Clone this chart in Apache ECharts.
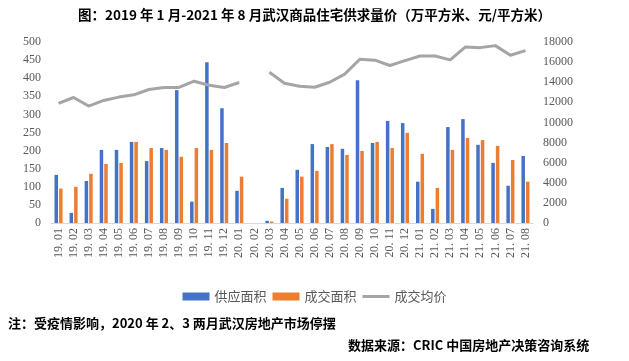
<!DOCTYPE html>
<html><head><meta charset="utf-8">
<script src="https://cdn.jsdelivr.net/npm/echarts@6/dist/echarts.min.js"></script>
<style>html,body{margin:0;padding:0;background:#fff}#c{width:629px;height:361px}</style>
</head><body><div id="c"></div>
<script>
const categories = ["19.01","19.02","19.03","19.04","19.05","19.06","19.07","19.08","19.09","19.10","19.11","19.12",
"20.01","20.02","20.03","20.04","20.05","20.06","20.07","20.08","20.09","20.10","20.11","20.12",
"21.01","21.02","21.03","21.04","21.05","21.06","21.07","21.08"];
const supply = [133,28,116,202,202,224,171,207,367,59,444,317,89,null,6,97,147,218,210,205,394,221,282,276,114,39,265,287,216,166,103,185];
const deal = [95,100,136,163,166,224,207,202,183,207,202,221,128,null,4,67,128,144,218,188,199,224,207,249,191,97,202,235,229,213,174,114];
const price = [11890,12480,11630,12190,12520,12750,13280,13480,13480,14100,13700,13480,13970,null,14990,13900,13600,13500,14000,14800,16280,16190,15660,16150,16610,16610,16220,17500,17440,17640,16680,17140];
const leftTicks = {min:0,max:500,interval:50};
const rightTicks = {min:0,max:18000,interval:2000};

const chart = echarts.init(document.getElementById('c'), null, {renderer:'canvas'});
const lbl = {color:'#595959', fontFamily:'Liberation Serif', fontSize:12};
chart.setOption({
  animation:false,
  title:{text:'图：2019 年 1 月-2021 年 8 月武汉商品住宅供求量价（万平方米、元/平方米）',left:'center',top:3,
    textStyle:{fontFamily:'Noto Sans CJK SC',fontWeight:'bold',fontSize:13.5,color:'#000'}},
  legend:{bottom:53,left:'center',itemWidth:27,itemHeight:8,itemGap:6,
    textStyle:{color:'#595959',fontSize:13,fontFamily:'Noto Sans CJK SC'},
    data:[{name:'供应面积',icon:'rect'},{name:'成交面积',icon:'rect'},{name:'成交均价',icon:'path://M0,0H27V3H0Z'}]},
  grid:{left:51,right:96,top:42,height:181},
  xAxis:{type:'category',data:categories,
    axisLine:{lineStyle:{color:'#D9D9D9'}},axisTick:{show:false},
    axisLabel:Object.assign({rotate:90,interval:0,margin:5,formatter:v=>v.replace('.', '. ')},lbl)},
  yAxis:[
    Object.assign({type:'value',position:'left',splitLine:{show:false},axisLine:{show:false},axisTick:{show:false},
      axisLabel:Object.assign({margin:10,formatter:v=>String(v)},lbl)},leftTicks),
    Object.assign({type:'value',position:'right',splitLine:{show:false},axisLine:{show:false},axisTick:{show:false},
      axisLabel:Object.assign({margin:10,formatter:v=>String(v)},lbl)},rightTicks)
  ],
  series:[
    {name:'供应面积',type:'bar',data:supply,barWidth:3.5,barGap:'30%',itemStyle:{color:'#4472C4'}},
    {name:'成交面积',type:'bar',data:deal,barWidth:3.5,barGap:'30%',itemStyle:{color:'#ED7D31'}},
    {name:'成交均价',type:'line',yAxisIndex:1,data:price,showSymbol:false,connectNulls:false,
      lineStyle:{color:'#A5A5A5',width:3,join:'round'},itemStyle:{color:'#A5A5A5'}}
  ],
  graphic:[
    {type:'text',left:8,top:317,style:{text:'注：受疫情影响，2020 年 2、3 两月武汉房地产市场停摆',font:'bold 13px "Noto Sans CJK SC"',fill:'#000'}},
    {type:'text',left:348,top:339,style:{text:'数据来源：CRIC 中国房地产决策咨询系统',font:'bold 13px "Noto Sans CJK SC"',fill:'#000'}}
  ]
});
</script></body></html>
